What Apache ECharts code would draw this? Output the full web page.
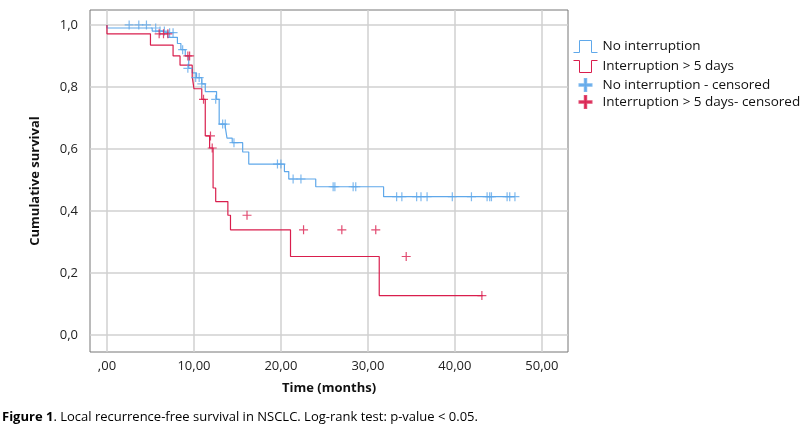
<!DOCTYPE html>
<html>
<head>
<meta charset="utf-8">
<script src="https://cdn.jsdelivr.net/npm/echarts@6/dist/echarts.min.js"></script>
<style>
  html, body { margin: 0; padding: 0; background: #fff; }
  #main { width: 805px; height: 440px; }
</style>
</head>
<body>
<div id="main"></div>
<script>
// step curves: time (months) and cumulative survival
var blueTime = [0, 5.2, 6.3, 7.0, 8.1, 8.5, 9.0, 9.4, 9.8, 10.3, 10.9, 11.3, 12.6, 12.9, 13.6, 13.8, 14.4, 15.6, 16.3, 20.4, 20.9, 24.0, 31.8, 46.9];
var blueSurv = [1.0, 0.99, 0.98, 0.975, 0.96, 0.94, 0.92, 0.90, 0.86, 0.845, 0.83, 0.81, 0.785, 0.76, 0.68, 0.67, 0.635, 0.62, 0.59, 0.551, 0.527, 0.503, 0.478, 0.446];
var redTime = [0, 5.0, 7.6, 8.4, 9.8, 10.0, 10.9, 11.3, 11.8, 12.2, 12.5, 13.9, 14.2, 21.1, 31.3, 36.2, 43.2];
var redSurv = [1.0, 0.971, 0.935, 0.90, 0.87, 0.833, 0.794, 0.76, 0.642, 0.603, 0.474, 0.43, 0.386, 0.339, 0.253, 0.127, 0.127];
// censored observations
var blueCensT = [2.55, 3.66, 4.54, 5.6, 6.1, 6.6, 7.2, 7.6, 8.7, 9.3, 10.2, 10.6, 10.9, 12.5, 13.3, 13.6, 14.6, 19.6, 20.0, 21.4, 22.3, 26.0, 26.2, 28.3, 28.6, 33.3, 33.9, 35.6, 36.1, 36.8, 39.7, 41.9, 43.7, 44.0, 44.2, 46.0, 46.3, 46.9];
var blueCensS = [1.0, 1.0, 1.0, 0.99, 0.98, 0.98, 0.975, 0.975, 0.92, 0.86, 0.83, 0.83, 0.81, 0.76, 0.68, 0.68, 0.62, 0.551, 0.551, 0.503, 0.503, 0.478, 0.478, 0.478, 0.478, 0.446, 0.446, 0.446, 0.446, 0.446, 0.446, 0.446, 0.446, 0.446, 0.446, 0.446, 0.446, 0.446];
var redCensT = [6.0, 6.5, 7.0, 9.3, 9.5, 11.1, 11.9, 12.1, 16.1, 22.6, 27.0, 30.9, 34.4, 43.1];
var redCensS = [0.971, 0.971, 0.971, 0.90, 0.90, 0.76, 0.642, 0.603, 0.386, 0.339, 0.339, 0.339, 0.253, 0.127];
var xTicks = [0, 10, 20, 30, 40, 50];
var yTicks = [0, 0.2, 0.4, 0.6, 0.8, 1.0];
var names = ['No interruption', 'Interruption > 5 days', 'No interruption - censored', 'Interruption > 5 days- censored'];

var blueColor = '#5fa8ea', redColor = '#d91e4d';
var plus = 'path://M5,0L5,10M0,5L10,5';
var plusPath = 'path://M4.4,0H5.6V4.4H10V5.6H5.6V10H4.4V5.6H0V4.4H4.4Z';

function zip(a, b) { return a.map(function (v, i) { return [v, b[i]]; }); }

var myChart = echarts.init(document.getElementById('main'));
var font = '"Open Sans", "DejaVu Sans", sans-serif';

var gridLines = xTicks.map(function (v) { return { xAxis: v }; })
  .concat(yTicks.map(function (v) { return { yAxis: v }; }));

var option = {
  animation: false,
  color: [blueColor, redColor, blueColor, redColor],
  textStyle: { fontFamily: font },
  grid: { left: 90, top: 10, width: 478, height: 342, show: true, borderColor: '#777', borderWidth: 1 },
  legend: {
    orient: 'vertical', left: 566, top: 33, itemGap: 3, itemWidth: 24, itemHeight: 12,
    textStyle: { fontSize: 13.5, color: '#111', fontFamily: font },
    data: [
      { name: names[0], icon: 'path://M0,10H4V2H12V10H16', itemStyle: { color: 'none', borderColor: blueColor, borderWidth: 1 } },
      { name: names[1], icon: 'path://M0,2H4V10H12V2H16', itemStyle: { color: 'none', borderColor: redColor, borderWidth: 1 } },
      { name: names[2], icon: plusPath, itemStyle: { color: blueColor } },
      { name: names[3], icon: plusPath, itemStyle: { color: redColor } }
    ]
  },
  xAxis: {
    type: 'value', min: -1.95, max: 53,
    name: 'Time (months)', nameLocation: 'middle', nameGap: 30,
    nameTextStyle: { fontWeight: 'bold', fontSize: 13, color: '#111' },
    axisLine: { show: false }, axisTick: { show: false }, splitLine: { show: false },
    axisLabel: {
      customValues: xTicks, fontSize: 13, color: '#222',
      formatter: function (v) { return v === 0 ? ',00' : v.toFixed(2).replace('.', ','); }
    }
  },
  yAxis: {
    type: 'value', min: -0.055, max: 1.048,
    name: 'Cumulative survival', nameLocation: 'middle', nameGap: 48,
    nameTextStyle: { fontWeight: 'bold', fontSize: 13, color: '#111' },
    axisLine: { show: false }, axisTick: { show: false }, splitLine: { show: false },
    axisLabel: {
      customValues: yTicks, fontSize: 13, color: '#222', margin: 12,
      formatter: function (v) { return v.toFixed(1).replace('.', ','); }
    }
  },
  series: [
    {
      name: names[0], type: 'line', step: 'start', data: zip(blueTime, blueSurv), showSymbol: false,
      lineStyle: { color: blueColor, width: 1.2 }, itemStyle: { color: blueColor }, z: 3,
      markLine: { silent: true, symbol: 'none', label: { show: false }, lineStyle: { color: '#d0d0d0', type: 'solid', width: 1.5 }, data: gridLines, z: 1 }
    },
    {
      name: names[1], type: 'line', step: 'start', data: zip(redTime, redSurv), showSymbol: false,
      lineStyle: { color: redColor, width: 1.2 }, itemStyle: { color: redColor }, z: 4
    },
    {
      name: names[2], type: 'scatter', data: zip(blueCensT, blueCensS), symbol: plus, symbolSize: 9,
      itemStyle: { color: 'none', borderColor: blueColor, borderWidth: 1.2 }, z: 5
    },
    {
      name: names[3], type: 'scatter', data: zip(redCensT, redCensS), symbol: plus, symbolSize: 9,
      itemStyle: { color: 'none', borderColor: redColor, borderWidth: 1.2 }, z: 6
    }
  ],
  graphic: [{
    type: 'text', left: 2, top: 411,
    style: {
      text: '{b|Figure 1}. Local recurrence-free survival in NSCLC. Log-rank test: p-value < 0.05.',
      rich: { b: { fontWeight: 'bold', fontSize: 13, fontFamily: font, fill: '#000' } },
      fontSize: 13, fontFamily: font, fill: '#000'
    }
  }]
};
myChart.setOption(option);
</script>
</body>
</html>
